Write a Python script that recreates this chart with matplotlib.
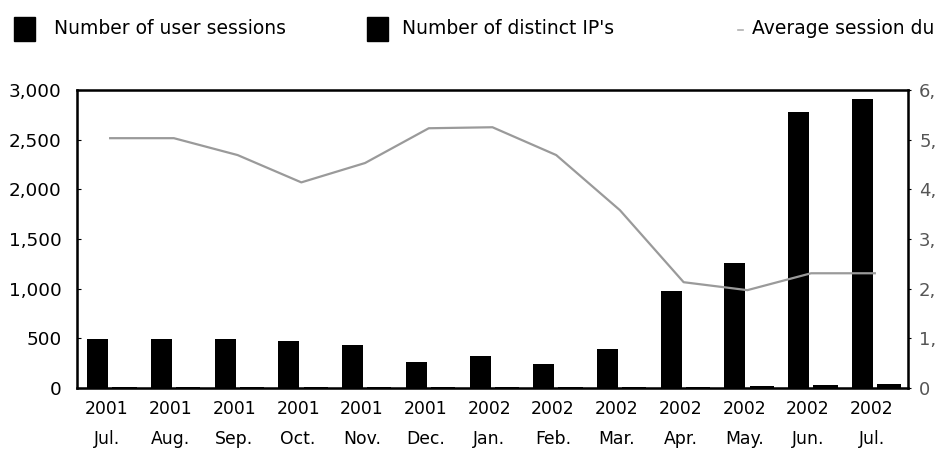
import matplotlib.pyplot as plt
import numpy as np

plt.rcParams['font.family'] = ['DejaVu Sans']

years = ['2001', '2001', '2001', '2001', '2001', '2001', '2002',
         '2002', '2002', '2002', '2002', '2002', '2002']
months = ['Jul.', 'Aug.', 'Sep.', 'Oct.', 'Nov.', 'Dec.', 'Jan.',
          'Feb.', 'Mar.', 'Apr.', 'May.', 'Jun.', 'Jul.']
sessions = [490, 490, 490, 470, 430, 260, 320, 240, 390, 980, 1260, 2780, 2910]
distinct_ips = [12, 12, 12, 12, 12, 10, 10, 10, 10, 12, 15, 28, 45]
avg_duration = [5.03, 5.03, 4.69, 4.14, 4.53, 5.23, 5.25, 4.69, 3.58, 2.13, 1.97, 2.31, 2.31]

fig = plt.figure(figsize=(9.37, 4.70), dpi=100)
ax = fig.add_axes([0.0822, 0.1745, 0.8868, 0.634])

x = np.arange(len(months))
w = 0.33
ax.bar(x - w / 2 - 0.03, sessions, width=w, color='black')
ax.bar(x + w / 2 + 0.06, distinct_ips, width=w + 0.05, color='black')

ax.set_ylim(0, 3000)
ax.set_xlim(-0.52, len(months) - 0.48)
ax.set_yticks([0, 500, 1000, 1500, 2000, 2500, 3000])
ax.set_yticklabels(['0', '500', '1,000', '1,500', '2,000', '2,500', '3,000'])
ax.set_xticks(x - 0.05)
ax.set_xticklabels([y + '\n' + m for y, m in zip(years, months)], linespacing=1.85)
ax.tick_params(axis='x', length=0, pad=9, labelsize=12.4)
ax.tick_params(axis='y', direction='in', length=3, labelsize=13.2, pad=11)
for s in ax.spines.values():
    s.set_linewidth(1.8)

ax2 = ax.twinx()
ax2.plot(x, avg_duration, color='#9a9a9a', lw=1.6)
ax2.set_ylim(0, 6)
ax2.set_yticks([0, 1, 2, 3, 4, 5, 6])
ax2.set_yticklabels(['0', '1,', '2,', '3,', '4,', '5,', '6,'])
ax2.tick_params(axis='y', direction='out', length=2, labelsize=13, pad=6)
for lab in ax2.get_yticklabels():
    lab.set_color('#555555')

# legend across the top
fig.patches.append(plt.Rectangle((14 / 937, 1 - 41 / 470), 21 / 937, 24 / 470,
                                 transform=fig.transFigure, color='black'))
fig.text(54 / 937, 1 - 28 / 470, 'Number of user sessions', fontsize=13.5, va='center')
fig.patches.append(plt.Rectangle((367 / 937, 1 - 41 / 470), 21 / 937, 24 / 470,
                                 transform=fig.transFigure, color='black'))
fig.text(402 / 937, 1 - 28 / 470, "Number of distinct IP's", fontsize=13.5, va='center')
fig.lines.append(plt.Line2D([738 / 937, 743 / 937], [1 - 30 / 470, 1 - 30 / 470],
                            transform=fig.transFigure, color='#b0b0b0', lw=1.2))
fig.text(752 / 937, 1 - 28 / 470, 'Average session du', fontsize=13.5, va='center')

fig.savefig('out.png', dpi=100)
